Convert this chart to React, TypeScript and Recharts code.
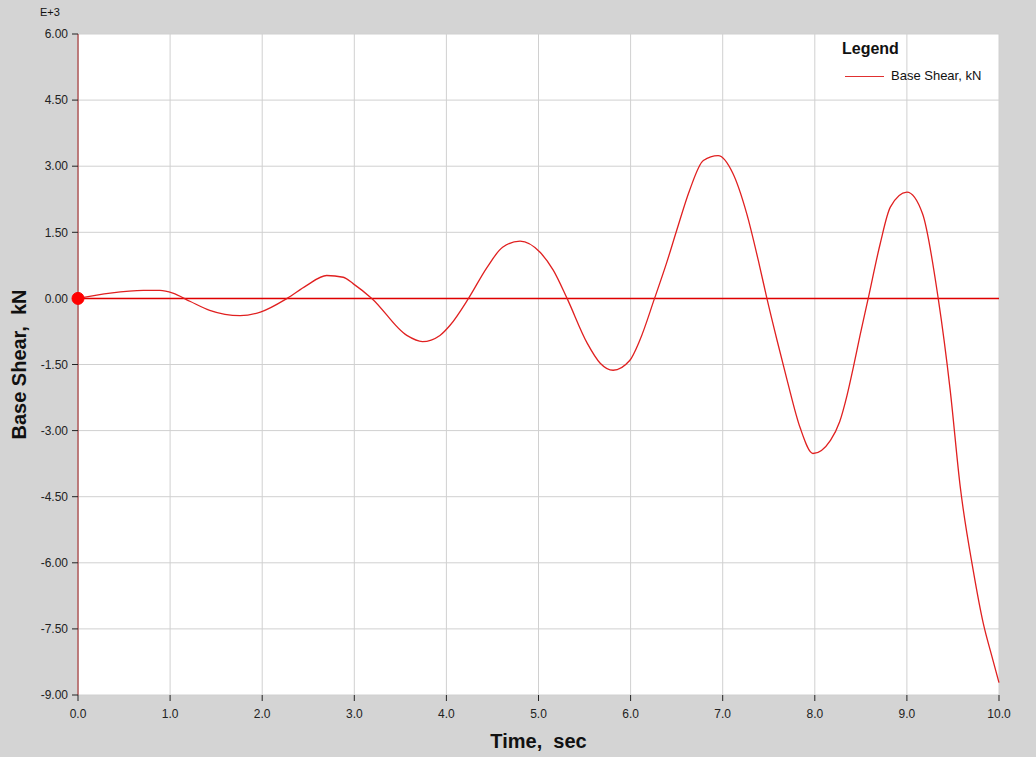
import React from 'react';
import { LineChart, Line, XAxis, YAxis, CartesianGrid, ReferenceLine, ReferenceDot } from 'recharts';

const times = [0, 0.35, 0.71, 0.89, 1.03, 1.22, 1.43, 1.76, 1.98, 2.27, 2.48, 2.7, 2.88, 2.99, 3.19, 3.57, 3.74, 3.93, 4.04, 4.24, 4.44, 4.61, 4.8, 5.02, 5.16, 5.31, 5.53, 5.67, 5.81, 5.99, 6.1, 6.26, 6.39, 6.5, 6.64, 6.79, 6.95, 7.11, 7.26, 7.4, 7.48, 7.59, 7.7, 7.84, 7.98, 8.17, 8.27, 8.35, 8.42, 8.49, 8.58, 8.71, 8.82, 9.0, 9.17, 9.34, 9.47, 9.58, 9.72, 9.83, 9.92, 10.0];
const baseShear = [0, 0.12, 0.18, 0.18, 0.12, -0.07, -0.27, -0.39, -0.31, 0, 0.29, 0.52, 0.48, 0.33, 0, -0.84, -0.98, -0.84, -0.61, 0, 0.7, 1.16, 1.3, 1.04, 0.64, 0, -1.02, -1.47, -1.63, -1.41, -0.95, 0, 0.8, 1.54, 2.45, 3.13, 3.24, 2.84, 1.93, 0.74, 0, -0.95, -1.86, -2.93, -3.52, -3.22, -2.8, -2.2, -1.55, -0.85, 0, 1.24, 2.07, 2.41, 1.92, 0, -2.08, -4.29, -6.17, -7.38, -8.1, -8.72];
const xTicks = [0, 1, 2, 3, 4, 5, 6, 7, 8, 9, 10];
const yTicks = [-9, -7.5, -6, -4.5, -3, -1.5, 0, 1.5, 3, 4.5, 6];
const seriesName = 'Base Shear, kN';
const xLabel = 'Time,\u00A0\u00A0sec';
const yLabel = 'Base Shear,\u00A0\u00A0kN';
const scaleNote = 'E+3';

const data = times.map((t, i) => ({ t, v: baseShear[i] }));

const FONT = '"Liberation Sans", Arial, sans-serif';

const YLabel = (props: any) => {
  const vb = props.viewBox || {};
  const cx = 19;
  const cy = (vb.y ?? 34) + (vb.height ?? 661) / 2;
  return (
    <text
      x={cx}
      y={cy}
      transform={`rotate(-90, ${cx}, ${cy})`}
      textAnchor="middle"
      dominantBaseline="central"
      style={{ fontSize: 20, fontWeight: 'bold', fill: '#111', fontFamily: FONT }}
    >
      {yLabel}
    </text>
  );
};

const XLabel = (props: any) => {
  const vb = props.viewBox || {};
  const cx = (vb.x ?? 78) + (vb.width ?? 921) / 2;
  return (
    <text
      x={cx}
      y={741}
      textAnchor="middle"
      dominantBaseline="central"
      style={{ fontSize: 20, fontWeight: 'bold', fill: '#111', fontFamily: FONT }}
    >
      {xLabel}
    </text>
  );
};

export default function App() {
  return (
    <div style={{ position: 'fixed', left: 0, top: 0, width: 1036, height: 757, background: '#d4d4d4', fontFamily: FONT }}>
      <LineChart width={1036} height={757} data={data} margin={{ top: 34, right: 37, bottom: 0, left: 0 }}>
        <CartesianGrid stroke="#d0d0d0" strokeWidth={1} fill="#ffffff" fillOpacity={1} />
        <XAxis
          dataKey="t"
          type="number"
          domain={[0, 10]}
          ticks={xTicks}
          tickFormatter={(v: number) => v.toFixed(1)}
          axisLine={false}
          tickLine={{ stroke: '#222' }}
          tickSize={6}
          tickMargin={8}
          height={62}
          tick={{ fontSize: 12, fill: '#222', fontFamily: FONT }}
          label={<XLabel />}
        />
        <YAxis
          type="number"
          domain={[-9, 6]}
          ticks={yTicks}
          tickFormatter={(v: number) => v.toFixed(2)}
          axisLine={{ stroke: '#b05a5a', strokeWidth: 1.5 }}
          tickLine={{ stroke: '#222' }}
          tickSize={6}
          tickMargin={4}
          width={78}
          tick={{ fontSize: 12, fill: '#222', fontFamily: FONT }}
          label={<YLabel />}
        />
        <ReferenceLine y={0} stroke="#e00000" strokeWidth={1.5} />
        <Line
          type="monotone"
          dataKey="v"
          name={seriesName}
          stroke="#e02020"
          strokeWidth={1.3}
          dot={false}
          activeDot={false}
          isAnimationActive={false}
        />
        <ReferenceDot x={0} y={0} r={6} fill="#ff0000" stroke="#ff0000" ifOverflow="visible" />
      </LineChart>
      <div style={{ position: 'absolute', left: 40, top: 6, fontSize: 11, color: '#111' }}>{scaleNote}</div>
      <div style={{ position: 'absolute', left: 842, top: 40, width: 180, height: 50 }}>
        <div style={{ position: 'absolute', left: 0, top: 0, fontWeight: 'bold', fontSize: 16, color: '#111', lineHeight: '18px' }}>Legend</div>
        <div style={{ position: 'absolute', left: 3, top: 36, width: 39, height: 1, background: '#e03030' }} />
        <div style={{ position: 'absolute', left: 49, top: 28, fontSize: 13, color: '#111', lineHeight: '16px', whiteSpace: 'nowrap' }}>{seriesName}</div>
      </div>
    </div>
  );
}
